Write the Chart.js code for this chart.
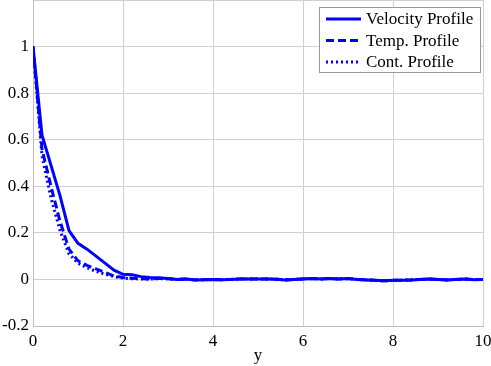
<!DOCTYPE html>
<html>
<head>
<meta charset="utf-8">
<script src="https://cdn.jsdelivr.net/npm/chart.js@4"></script>
<style>
  html, body { margin: 0; padding: 0; background: #fff; }
  #wrap { width: 491px; height: 366px; }
</style>
</head>
<body>
<div id="wrap"><canvas id="profileChart" width="491" height="366"></canvas></div>
<script>
// sample positions along y
const yPos = [0, 0.2, 0.4, 0.6, 0.8, 1.0, 1.2, 1.4, 1.6, 1.8, 2.0, 2.2, 2.4, 2.6, 2.8, 3.0,
  3.2, 3.4, 3.6, 3.8, 4.0, 4.2, 4.4, 4.6, 4.8, 5.0, 5.2, 5.4, 5.6, 5.8, 6.0, 6.2, 6.4,
  6.6, 6.8, 7.0, 7.2, 7.4, 7.6, 7.8, 8.0, 8.2, 8.4, 8.6, 8.8, 9.0, 9.2, 9.4, 9.6, 9.8, 10.0];

const velocity = [1.0, 0.62, 0.49, 0.36, 0.21, 0.155, 0.13, 0.10, 0.07, 0.04, 0.022, 0.02, 0.012, 0.008, 0.007, 0.004,
  0.0, 0.002, -0.002, -0.001, 0.0, -0.001, 0.0, 0.002, 0.002, 0.002, 0.002, 0.001, -0.002, 0.0, 0.002, 0.004, 0.002,
  0.004, 0.002, 0.004, 0.0, -0.002, -0.004, -0.006, -0.004, -0.003, -0.002, 0.0, 0.002, 0.0, -0.002, 0.0, 0.002, -0.001, 0.0];

const temperature = [1.0, 0.56, 0.40, 0.25, 0.13, 0.08, 0.06, 0.045, 0.03, 0.015, 0.008, 0.005, 0.003, 0.002, 0.004, 0.003,
  0.0, 0.002, -0.002, -0.001, 0.0, -0.001, 0.0, 0.002, 0.002, 0.002, 0.002, 0.001, -0.002, 0.0, 0.002, 0.004, 0.002,
  0.004, 0.002, 0.004, 0.0, -0.002, -0.004, -0.006, -0.004, -0.003, -0.002, 0.0, 0.002, 0.0, -0.002, 0.0, 0.002, -0.001, 0.0];

const concentration = [1.0, 0.53, 0.35, 0.21, 0.11, 0.07, 0.05, 0.035, 0.022, 0.012, 0.006, 0.003, 0.002, 0.002, 0.003, 0.003,
  0.0, 0.002, -0.002, -0.001, 0.0, -0.001, 0.0, 0.002, 0.002, 0.002, 0.002, 0.001, -0.002, 0.0, 0.002, 0.004, 0.002,
  0.004, 0.002, 0.004, 0.0, -0.002, -0.004, -0.006, -0.004, -0.003, -0.002, 0.0, 0.002, 0.0, -0.002, 0.0, 0.002, -0.001, 0.0];

const seriesLabels = ['Velocity Profile', 'Temp. Profile', 'Cont. Profile'];
const xTicks = [0, 2, 4, 6, 8, 10];
const yTicks = [-0.2, 0, 0.2, 0.4, 0.6, 0.8, 1];

const FONT = '"Liberation Serif", "DejaVu Serif", serif';
const BLUE = '#0000ff';

function toPoints(vals) {
    return yPos.map((x, i) => ({ x: x, y: vals[i] }));
}

// legend box drawn inside the plot, top right
const boxLegend = {
    id: 'boxLegend',
    afterDatasetsDraw(chart) {
        const ctx = chart.ctx;
        const area = chart.chartArea;
        const x0 = area.right - 164, y0 = 7, w = 161, h = 65;
        ctx.save();
        ctx.fillStyle = '#fff';
        ctx.fillRect(x0, y0, w, h);
        ctx.strokeStyle = '#999';
        ctx.lineWidth = 1;
        ctx.strokeRect(x0 + 0.5, y0 + 0.5, w, h);
        ctx.font = '17px ' + FONT;
        ctx.textBaseline = 'middle';
        ctx.fillStyle = '#000';
        chart.data.datasets.forEach((ds, i) => {
            const ly = y0 + 12 + i * 21.5;
            ctx.beginPath();
            ctx.strokeStyle = ds.borderColor;
            ctx.lineWidth = ds.borderWidth;
            ctx.setLineDash(ds.borderDash || []);
            ctx.moveTo(x0 + 7, ly);
            ctx.lineTo(x0 + 42, ly);
            ctx.stroke();
            ctx.setLineDash([]);
            ctx.fillText(ds.label, x0 + 47, ly + 1);
        });
        ctx.restore();
    }
};

const ctx = document.getElementById('profileChart').getContext('2d');
new Chart(ctx, {
    type: 'line',
    data: {
        datasets: [
            {
                label: seriesLabels[0],
                data: toPoints(velocity),
                borderColor: BLUE,
                borderWidth: 3,
                pointRadius: 0,
                tension: 0
            },
            {
                label: seriesLabels[1],
                data: toPoints(temperature),
                borderColor: BLUE,
                borderWidth: 3,
                borderDash: [8, 4],
                pointRadius: 0,
                tension: 0
            },
            {
                label: seriesLabels[2],
                data: toPoints(concentration),
                borderColor: BLUE,
                borderWidth: 3,
                borderDash: [2, 3],
                pointRadius: 0,
                tension: 0
            }
        ]
    },
    options: {
        responsive: false,
        animation: false,
        layout: { padding: { top: 0, right: 8, left: 0, bottom: 0 } },
        plugins: {
            legend: { display: false },
            tooltip: { enabled: false }
        },
        scales: {
            x: {
                type: 'linear',
                min: 0,
                max: 10,
                afterBuildTicks: axis => { axis.ticks = xTicks.map(v => ({ value: v })); },
                afterFit: axis => {
                    axis.height = 40;
                    axis.paddingLeft = 0;
                    axis.paddingRight = 0;
                },
                grid: { color: '#d0d0d0', lineWidth: 1, drawTicks: false },
                border: { color: '#bdbdbd' },
                ticks: {
                    color: '#000',
                    padding: 5,
                    maxRotation: 0,
                    font: { family: FONT, size: 17 },
                    callback: v => String(v)
                },
                title: {
                    display: true,
                    text: 'y',
                    color: '#000',
                    padding: { top: 0, bottom: 0 },
                    font: { family: FONT, size: 17 }
                }
            },
            y: {
                min: -0.2,
                max: 1.2,
                afterBuildTicks: axis => { axis.ticks = yTicks.concat([1.2]).map(v => ({ value: v })); },
                afterFit: axis => {
                    axis.width = 33;
                    axis.paddingTop = 0;
                    axis.paddingBottom = 0;
                },
                grid: { color: '#d0d0d0', lineWidth: 1, drawTicks: false },
                border: { color: '#bdbdbd' },
                ticks: {
                    color: '#000',
                    padding: 4,
                    font: { family: FONT, size: 17 },
                    callback: v => {
                        const r = Math.round(v * 10) / 10;
                        return r > 1.05 ? '' : String(r);
                    }
                }
            }
        }
    },
    plugins: [boxLegend]
});
</script>
</body>
</html>
